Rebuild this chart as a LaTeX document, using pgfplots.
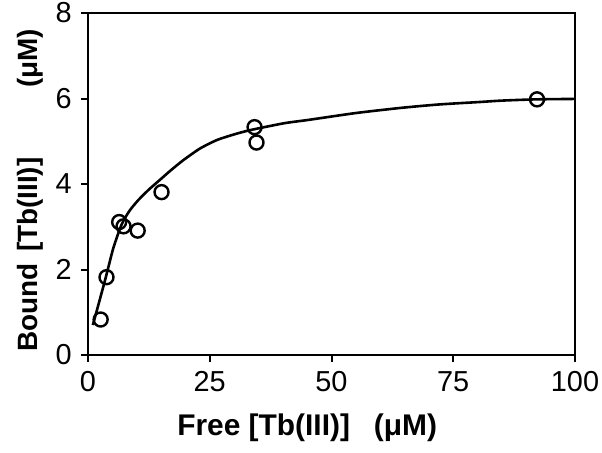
\documentclass[border=0pt]{standalone}
\usepackage{fontspec}
\setmainfont{Liberation Sans}
\usepackage{pgfplots}
\pgfplotsset{compat=1.18}
\begin{document}
\begin{tikzpicture}
\begin{axis}[
  at={(0,0)}, anchor=origin,
  scale only axis, width=487bp, height=342bp,
  xmin=0, xmax=100, ymin=0, ymax=8,
  xtick={0,25,50,75,100}, ytick={0,2,4,6,8},
  axis line style={line width=2.2bp},
  tick style={line width=2bp, black},
  tick align=outside, major tick length=7bp,
  xtick pos=bottom, ytick pos=left,
  /pgf/number format/assume math mode=true,
  ticklabel style={font=\fontsize{29}{29}\selectfont},
  yticklabel style={anchor=east, inner sep=0pt, xshift=-9bp},
  xticklabel style={anchor=north, inner sep=0pt, yshift=-9bp},
  xlabel={\textbf{Free [Tb(III)]\hspace{0.8em}(μM)}},
  ylabel={\textbf{Bound\hspace{0.4em}[Tb(III)]\hspace{2.5em}(μM)}},
  xlabel style={font=\fontsize{30}{30}\selectfont, at={(axis description cs:0.45,-0.234)}, anchor=base},
  ylabel style={font=\fontsize{28}{28}\selectfont, at={(axis description cs:-0.103,0.482)}, anchor=base, rotate=0},
]
\addplot[black, line width=2.6bp, smooth, tension=0.4] coordinates {
(1.0,0.70) (3.5,1.75) (5.2,2.5) (6.9,3.05) (8.5,3.37) (10.3,3.62)
(12.5,3.87) (14.5,4.07) (17,4.32) (19.6,4.56) (23,4.83) (26.5,5.03) (30,5.16) (33.3,5.26) (40.2,5.42)
(45.3,5.5) (55,5.66) (64.2,5.78) (72,5.86) (80.7,5.92) (84.8,5.95)
(92,5.98) (100,5.99)};
\addplot[only marks, mark=o, mark size=7bp, mark options={line width=2.4bp, black, fill=white}] coordinates {
(2.6,0.83) (3.8,1.82) (6.4,3.11) (7.3,3.01) (10.2,2.91) (15.1,3.81)
(34.2,5.33) (34.6,4.97) (92.2,5.98)};
\end{axis}
\pgfresetboundingbox
\path[use as bounding box] (-88bp,-98bp) rectangle (514bp,355bp);
\end{tikzpicture}
\end{document}
